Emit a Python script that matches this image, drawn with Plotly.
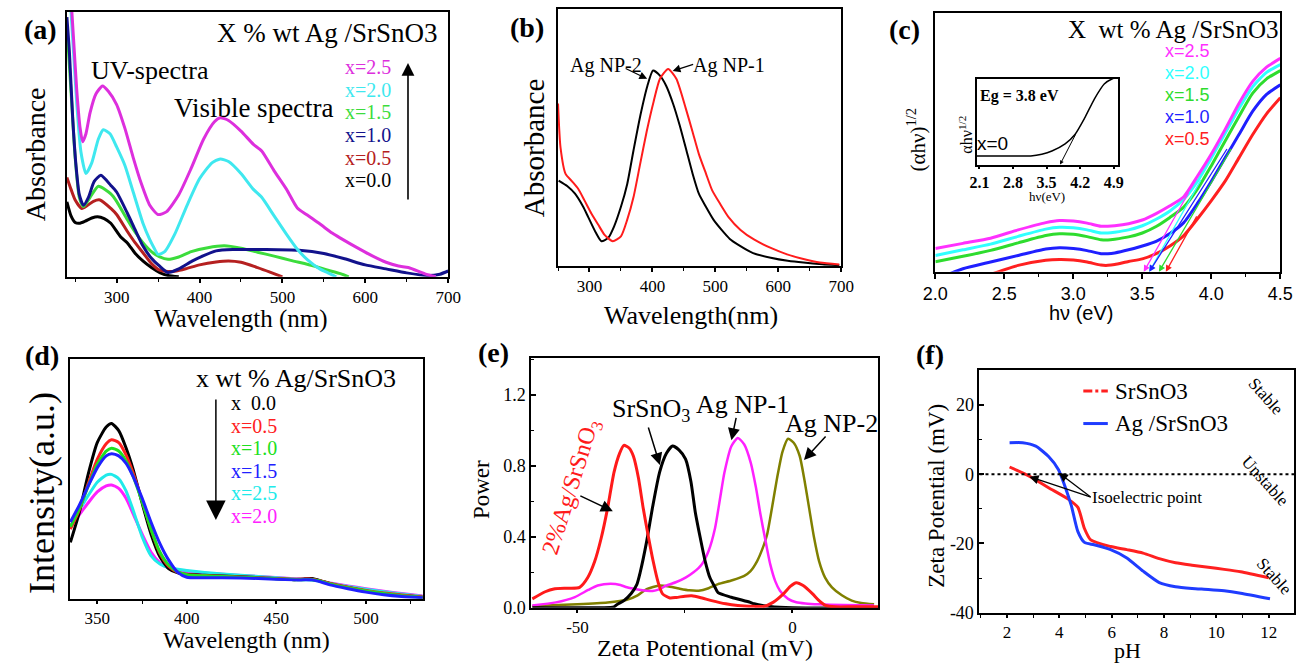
import plotly.graph_objects as go

SERIF = "Liberation Serif"
SANS = "Liberation Sans"
W, H = 1309, 666

# ---------------- (a) UV-vis absorbance, x wt% Ag/SrSnO3 ----------------
a_wl_25 = [244, 248, 252, 256, 259, 263, 268, 275, 283, 290, 300, 310, 320, 330, 340, 350, 360, 375, 390, 405,
           418, 425, 435, 450, 465, 475, 490, 505, 518, 530, 545, 560, 570, 590, 609, 625, 640, 652, 672, 685]
a_ab_25 = [1.10, 0.90, 0.70, 0.56, 0.51, 0.54, 0.62, 0.69, 0.72, 0.70, 0.65, 0.56, 0.45, 0.35, 0.27, 0.235, 0.245,
           0.31, 0.41, 0.52, 0.585, 0.60, 0.59, 0.55, 0.50, 0.475, 0.40, 0.33, 0.26, 0.233, 0.20, 0.165, 0.146,
           0.11, 0.078, 0.055, 0.041, 0.035, 0.011, 0.0]
a_wl_20 = [243, 248, 252, 257, 263, 270, 278, 284, 292, 300, 310, 320, 332, 340, 345, 350, 358, 370, 385, 400,
           415, 425, 435, 450, 465, 475, 490, 505, 518, 530, 545, 555, 565]
a_ab_20 = [1.10, 0.85, 0.65, 0.47, 0.39, 0.43, 0.52, 0.555, 0.54, 0.49, 0.42, 0.32, 0.20, 0.14, 0.11, 0.085,
           0.095, 0.16, 0.27, 0.37, 0.43, 0.445, 0.435, 0.39, 0.33, 0.30, 0.23, 0.16, 0.104, 0.065, 0.03, 0.015, 0.0]
a_wl_15 = [240, 245, 250, 255, 260, 268, 278, 293, 300, 313, 322, 332, 342, 352, 362, 375, 390, 410, 430, 450,
           470, 490, 510, 538, 555, 570, 580]
a_ab_15 = [0.95, 0.70, 0.45, 0.30, 0.265, 0.30, 0.342, 0.313, 0.285, 0.215, 0.17, 0.128, 0.095, 0.075, 0.066,
           0.075, 0.095, 0.11, 0.117, 0.108, 0.093, 0.078, 0.062, 0.041, 0.025, 0.012, 0.0]
a_wl_10 = [240, 243, 247, 251, 255, 260, 266, 273, 281, 293, 300, 313, 322, 332, 342, 352, 362, 375, 391, 405,
           420, 440, 480, 520, 550, 575, 600, 625, 650, 675, 690, 700]
a_ab_10 = [0.98, 0.85, 0.60, 0.42, 0.31, 0.27, 0.30, 0.36, 0.383, 0.345, 0.32, 0.24, 0.18, 0.115, 0.07, 0.04,
           0.016, 0.03, 0.059, 0.08, 0.098, 0.103, 0.103, 0.10, 0.088, 0.068, 0.045, 0.03, 0.015, 0.005, 0.01, 0.022]
a_wl_05 = [240, 245, 250, 258, 265, 272, 280, 293, 300, 313, 322, 332, 342, 352, 362, 372, 385, 400, 420, 435,
           450, 470, 485, 500]
a_ab_05 = [0.375, 0.33, 0.29, 0.258, 0.27, 0.285, 0.29, 0.258, 0.235, 0.171, 0.13, 0.09, 0.05, 0.025, 0.02,
           0.022, 0.032, 0.045, 0.056, 0.06, 0.055, 0.035, 0.018, 0.0]
a_wl_00 = [240, 245, 250, 255, 262, 270, 277, 285, 293, 305, 313, 322, 332, 342, 352, 362, 375]
a_ab_00 = [0.283, 0.23, 0.205, 0.202, 0.21, 0.222, 0.227, 0.22, 0.202, 0.15, 0.128, 0.09, 0.059, 0.035, 0.016,
           0.005, 0.0]

# ---------------- (b) Ag nanoparticles ----------------
b_wl_np2 = [251, 265, 277, 290, 298, 310, 319, 330, 339, 350, 360, 370, 381, 392, 401, 412, 422, 433, 443, 454,
            464, 474, 485, 497, 510, 523, 536, 560, 588, 615, 640, 670, 697]
b_ab_np2 = [0.332, 0.31, 0.281, 0.23, 0.19, 0.13, 0.096, 0.11, 0.153, 0.23, 0.319, 0.45, 0.587, 0.70, 0.76,
            0.74, 0.70, 0.63, 0.55, 0.45, 0.358, 0.28, 0.23, 0.18, 0.14, 0.105, 0.083, 0.05, 0.032, 0.02,
            0.013, 0.007, 0.003]
b_wl_np1 = [250, 254, 262, 272, 282, 292, 303, 314, 324, 337, 350, 360, 370, 380, 391, 402, 412, 425, 438, 453,
            464, 474, 485, 495, 508, 521, 540, 562, 590, 614, 640, 666, 697]
b_ab_np1 = [0.632, 0.46, 0.358, 0.33, 0.30, 0.255, 0.204, 0.16, 0.121, 0.096, 0.115, 0.18, 0.268, 0.39, 0.524,
            0.64, 0.728, 0.766, 0.728, 0.613, 0.52, 0.434, 0.36, 0.294, 0.24, 0.19, 0.14, 0.102, 0.068, 0.045,
            0.027, 0.013, 0.006]

# ---------------- (c) Tauc plots ----------------
c_ev = [2.0, 2.2, 2.4, 2.6, 2.8, 2.9, 3.0, 3.1, 3.2, 3.25, 3.3, 3.4, 3.5, 3.6, 3.7, 3.8, 3.9, 4.0, 4.1, 4.2,
        4.3, 4.4, 4.5]
c_25 = [0.09, 0.11, 0.13, 0.162, 0.19, 0.198, 0.196, 0.188, 0.176, 0.176, 0.178, 0.186, 0.20, 0.225, 0.255,
        0.29, 0.37, 0.455, 0.55, 0.65, 0.735, 0.79, 0.824]
c_20 = [0.063, 0.085, 0.107, 0.137, 0.165, 0.172, 0.17, 0.162, 0.15, 0.15, 0.153, 0.162, 0.178, 0.203, 0.235,
        0.28, 0.35, 0.44, 0.535, 0.63, 0.715, 0.77, 0.80]
c_15 = [0.039, 0.06, 0.083, 0.112, 0.14, 0.147, 0.145, 0.136, 0.124, 0.123, 0.126, 0.135, 0.15, 0.175, 0.21,
        0.25, 0.32, 0.41, 0.505, 0.60, 0.69, 0.745, 0.777]
c_10 = [-0.03, 0.012, 0.038, 0.063, 0.088, 0.093, 0.09, 0.082, 0.07, 0.07, 0.073, 0.085, 0.10, 0.118, 0.148,
        0.19, 0.265, 0.35, 0.44, 0.53, 0.62, 0.685, 0.722]
c_05 = [None, None, -0.01, 0.025, 0.045, 0.048, 0.046, 0.038, 0.026, 0.025, 0.028, 0.04, 0.05, 0.07, 0.10,
        0.14, 0.205, 0.275, 0.35, 0.44, 0.53, 0.61, 0.672]
# linear extrapolations: upper point and band-gap intercept for each loading
c_tan_top_ev = [3.84, 3.93, 4.15, 4.12, 3.90]
c_tan_top_val = [0.31, 0.36, 0.48, 0.48, 0.22]
c_gap_ev = [3.51, 3.55, 3.62, 3.55, 3.67]

# inset: x = 0
ci_ev = [2.04, 2.5, 3.0, 3.17, 3.4, 3.61, 3.885, 4.09, 4.29, 4.5, 4.70, 4.87, 4.98]
ci_val = [0.10, 0.10, 0.10, 0.10, 0.12, 0.157, 0.24, 0.35, 0.54, 0.77, 0.94, 1.0, 1.02]
ci_tan_ev = [3.78, 4.12]
ci_tan_val = [0.0, 0.37]
ci_ticks = [2.1, 2.8, 3.5, 4.2, 4.9]

# ---------------- (d) PL spectra ----------------
d_wl = [335, 340, 345, 350, 355, 358, 362, 366, 370, 375, 380, 385, 390, 395, 400, 410, 420, 440, 460, 465,
        470, 475, 480, 490, 500, 510, 520, 532]
d_00 = [0.235, 0.36, 0.52, 0.65, 0.715, 0.73, 0.70, 0.63, 0.54, 0.40, 0.27, 0.175, 0.125, 0.108, 0.102, 0.098,
        0.095, 0.088, 0.08, 0.083, 0.085, 0.075, 0.063, 0.047, 0.033, 0.022, 0.014, 0.007]
d_05 = [0.29, 0.37, 0.48, 0.58, 0.645, 0.662, 0.65, 0.60, 0.525, 0.41, 0.29, 0.19, 0.135, 0.11, 0.10, 0.097,
        0.094, 0.088, 0.082, 0.082, 0.082, 0.074, 0.064, 0.048, 0.035, 0.024, 0.016, 0.008]
d_10 = [0.30, 0.375, 0.47, 0.56, 0.615, 0.627, 0.615, 0.575, 0.51, 0.405, 0.29, 0.195, 0.14, 0.112, 0.10, 0.096,
        0.093, 0.087, 0.08, 0.08, 0.08, 0.073, 0.062, 0.046, 0.033, 0.022, 0.013, 0.006]
d_15 = [0.32, 0.39, 0.47, 0.545, 0.595, 0.604, 0.595, 0.565, 0.51, 0.42, 0.32, 0.23, 0.16, 0.11, 0.09, 0.088,
        0.088, 0.085, 0.079, 0.079, 0.079, 0.07, 0.058, 0.042, 0.028, 0.017, 0.01, 0.005]
d_25 = [0.32, 0.37, 0.43, 0.485, 0.515, 0.518, 0.50, 0.45, 0.37, 0.26, 0.18, 0.145, 0.13, 0.123, 0.118, 0.11,
        0.103, 0.093, 0.083, 0.08, 0.078, 0.072, 0.065, 0.052, 0.04, 0.03, 0.02, 0.01]
d_20 = [0.305, 0.35, 0.40, 0.445, 0.47, 0.474, 0.46, 0.42, 0.355, 0.27, 0.195, 0.15, 0.128, 0.12, 0.115, 0.108,
        0.102, 0.093, 0.084, 0.081, 0.079, 0.073, 0.066, 0.054, 0.042, 0.032, 0.022, 0.012]

# ---------------- (e) zeta potential distributions ----------------
e_zp_ag = [-60.5, -57.5, -55.5, -52, -49.5, -47.6, -46, -44.5, -43, -41.5, -40.2, -39.2, -38, -37, -35.8, -34.7,
           -33.5, -32.4, -31.2, -30.2, -28.5, -27, -25, -23.4, -21.5, -18.8, -15.5, -12.7, -9, -6.7, -4.5,
           -2.1, -0.5, 0.9, 2.5, 4.7, 6.2, 7.7, 10, 14, 20]
e_pw_ag = [0.05, 0.09, 0.106, 0.11, 0.115, 0.17, 0.26, 0.39, 0.56, 0.763, 0.87, 0.915, 0.90, 0.855, 0.73, 0.56,
           0.40, 0.263, 0.14, 0.078, 0.055, 0.058, 0.065, 0.067, 0.058, 0.04, 0.022, 0.013, 0.008, 0.007, 0.03,
           0.078, 0.12, 0.141, 0.125, 0.078, 0.04, 0.013, 0.005, 0.005, 0.005]
e_zp_sso = [-60.5, -50, -44, -41.5, -40.7, -39.2, -37.5, -36.2, -35.4, -33.9, -32.5, -30.9, -29.3, -27.9, -26.4,
            -24.85, -23.6, -22.6, -21.4, -20.3, -19.2, -18, -17.3, -14.2, -9.8, -8.9, -5.2, 0, 20]
e_pw_sso = [0.0, 0.0, 0.0, 0.005, 0.02, 0.04, 0.08, 0.13, 0.2, 0.374, 0.57, 0.763, 0.87, 0.911, 0.89, 0.837,
            0.71, 0.54, 0.39, 0.263, 0.17, 0.115, 0.085, 0.059, 0.03, 0.022, 0.007, 0.0, 0.0]
e_zp_np1 = [-60.5, -55, -50.6, -47.5, -45.3, -42.3, -40, -38.5, -36, -33.9, -32.5, -31, -29.4, -27, -24.85,
            -23, -21.1, -19.5, -18, -16.8, -15.8, -14.2, -12.7, -11.2, -9.7, -8.5, -7.4, -6.2, -5.15, -4, -2.9,
            -1, 0.9, 3, 6.2, 12, 19]
e_pw_np1 = [0.013, 0.03, 0.06, 0.10, 0.125, 0.135, 0.128, 0.115, 0.103, 0.096, 0.094, 0.103, 0.124, 0.145,
            0.17, 0.2, 0.244, 0.32, 0.448, 0.62, 0.763, 0.91, 0.957, 0.92, 0.818, 0.68, 0.522, 0.37, 0.244,
            0.15, 0.096, 0.05, 0.031, 0.024, 0.019, 0.015, 0.013]
e_zp_np2 = [-60.5, -50, -43, -38.5, -36, -33.9, -30.9, -28.5, -26.4, -24, -21.8, -19.5, -17.3, -14, -11.2, -9.8,
            -8.2, -7, -5.9, -4.7, -3.6, -2.3, -1, 0.3, 1.7, 2.8, 3.9, 5, 6.2, 7.6, 9.2, 11.5, 13.8, 16, 19]
e_pw_np2 = [0.01, 0.02, 0.03, 0.045, 0.07, 0.105, 0.125, 0.118, 0.108, 0.098, 0.096, 0.11, 0.133, 0.155, 0.18,
            0.205, 0.263, 0.33, 0.411, 0.57, 0.726, 0.88, 0.952, 0.93, 0.855, 0.72, 0.56, 0.40, 0.263, 0.17,
            0.115, 0.07, 0.04, 0.027, 0.019]
e_xticks = [-50, 0]
e_xtick_text = ["-50", "0"]

# ---------------- (f) zeta potential vs pH ----------------
f_ph_sso = [2.1, 2.85, 3.59, 4.34, 4.71, 4.96, 5.2, 5.96, 6.58, 7.2, 7.82, 8.44, 9.07, 9.69, 10.3, 10.93, 12.0]
f_zp_sso = [2.08, -0.57, -3.9, -7.2, -9.6, -15.7, -19.0, -20.9, -21.8, -22.8, -24.4, -25.6, -26.3, -26.9,
            -27.5, -28.2, -29.9]
f_ph_ag = [2.1, 2.6, 3.1, 3.59, 3.97, 4.21, 4.46, 4.71, 4.96, 5.33, 5.96, 6.58, 7.2, 7.82, 8.44, 9.07, 9.69,
           10.3, 10.93, 12.05]
f_zp_ag = [9.08, 9.08, 8.1, 5.1, 1.3, -3.4, -9.1, -16.6, -19.7, -20.4, -21.8, -24.2, -28.0, -31.3, -32.5,
           -33.0, -33.3, -33.7, -34.4, -36.0]
f_yticks = [-40, -20, 0, 20]
f_ytick_text = ["-40", "-20", "0", "20"]

fig = go.Figure()


def line(x, y, color, width, ax):
    fig.add_trace(go.Scatter(x=x, y=y, mode="lines", line=dict(color=color, width=width, shape="spline",
                                                                 smoothing=0.6),
                             xaxis="x" + ax, yaxis="y" + ax, showlegend=False, hoverinfo="skip"))


# (a)
A_COL = {"2.5": "#dd2fdd", "2.0": "#3fe8ef", "1.5": "#3cdc3c", "1.0": "#12128c", "0.5": "#b52020", "0.0": "#000000"}
line(a_wl_00, a_ab_00, A_COL["0.0"], 3, "")
line(a_wl_05, a_ab_05, A_COL["0.5"], 3, "")
line(a_wl_15, a_ab_15, A_COL["1.5"], 3, "")
line(a_wl_10, a_ab_10, A_COL["1.0"], 3, "")
line(a_wl_20, a_ab_20, A_COL["2.0"], 3, "")
line(a_wl_25, a_ab_25, A_COL["2.5"], 3, "")
# (b)
line(b_wl_np2, b_ab_np2, "#000000", 2, "2")
line(b_wl_np1, b_ab_np1, "#ff1c1c", 2, "2")
# (c)
C_COL = ["#ff30ff", "#30ffff", "#2edc2e", "#1f1fff", "#ff2020"]
for ys, col in zip([c_05, c_10, c_15, c_20, c_25], C_COL[::-1]):
    line(c_ev, ys, col, 3, "3")
line(ci_ev, ci_val, "#000000", 1.5, "7")
# (d)
D_COL = ["#000000", "#ff2020", "#20e020", "#2020ff", "#20eaea", "#ff20ff"]
for ys, col in zip([d_20, d_25, d_00, d_05, d_10, d_15], [D_COL[5], D_COL[4], D_COL[0], D_COL[1], D_COL[2], D_COL[3]]):
    line(d_wl, ys, col, 3, "4")
# (e)
line(e_zp_np2, e_pw_np2, "#808000", 2.5, "5")
line(e_zp_np1, e_pw_np1, "#ff20ff", 2.5, "5")
line(e_zp_sso, e_pw_sso, "#000000", 3, "5")
line(e_zp_ag, e_pw_ag, "#ff1a1a", 3, "5")
# (f)
line(f_ph_sso, f_zp_sso, "#ff2020", 3, "6")
line(f_ph_ag, f_zp_ag, "#1f3cff", 3, "6")


def px(x):
    return x / W


def py(y):
    return 1 - y / H


ann = []


def text(x, y, s, size, family=SERIF, color="#000", angle=0, xanchor="center", weight="normal"):
    ann.append(dict(x=px(x), y=py(y), xref="paper", yref="paper", text=s, showarrow=False,
                    font=dict(family=family, size=size, color=color, weight=weight),
                    textangle=angle, xanchor=xanchor, yanchor="middle"))


def arrow(tx, ty, hx, hy, head=2, size=1.2, width=1.5):
    ann.append(dict(x=px(hx), y=py(hy), xref="paper", yref="paper", ax=tx - hx, ay=ty - hy, text="",
                    showarrow=True, arrowhead=head, arrowsize=size, arrowwidth=width, arrowcolor="#000"))


# panel labels
for lab, (x, y) in zip("abcdef", [(28, 30), (524, 28), (910, 30), (30, 361), (490, 358), (936, 360)]):
    text(x, y, "(%s)" % lab, 28, weight="bold")

# (a) texts
text(321, 34, "X % wt Ag /SrSnO3", 27)
text(140, 72, "UV-spectra", 26)
text(246, 110, "Visible spectra", 27)
for i, k in enumerate(["2.5", "2.0", "1.5", "1.0", "0.5", "0.0"]):
    text(337, 68 + i * 23, "x=" + k, 20, color=A_COL[k], xanchor="left")
arrow(403, 202, 403, 64, head=2, size=1.6, width=1.6)
text(23, 157, "Absorbance", 28, angle=-90)
text(233, 324, "Wavelength (nm)", 25)

# (b) texts
text(605, 67, "Ag NP-2", 20)
text(730, 67, "Ag NP-1", 20)
arrow(624, 69, 647, 80, size=1.3, width=1.2)
arrow(695, 65, 673, 72, size=1.3, width=1.2)
text(531, 150, "Absorbance", 29, angle=-90)
text(692, 320, "Wavelength(nm)", 26)

# (c) texts
text(1183, 30, "X  wt % Ag /SrSnO3", 25)
for i, (k, col) in enumerate(zip(["2.5", "2.0", "1.5", "1.0", "0.5"], C_COL)):
    text(1173, 52 + i * 22.3, "x=" + k, 18, family=SANS, color=col, xanchor="left")
text(922, 142, "(αhν)<sup>1/2</sup>", 21, angle=-90)
text(1090, 318, "hν (eV)", 20, family=SANS)
for i, col in enumerate(C_COL):
    ann.append(dict(x=c_gap_ev[i], y=0, xref="x3", yref="y3", axref="x3", ayref="y3",
                    ax=c_tan_top_ev[i], ay=c_tan_top_val[i], text="", showarrow=True, arrowhead=2,
                    arrowsize=1, arrowwidth=1.3, arrowcolor=col))
ann.append(dict(x=ci_tan_ev[0], y=ci_tan_val[0], xref="x7", yref="y7", axref="x7", ayref="y7",
                ax=ci_tan_ev[1], ay=ci_tan_val[1], text="", showarrow=True, arrowhead=2,
                arrowsize=0.8, arrowwidth=1, arrowcolor="#000"))
text(1027, 97, "Eg = 3.8 eV", 16, weight="bold")
text(981, 146, "x=0", 19, family=SANS, xanchor="left")
text(972, 137, "αhν<sup>1/2</sup>", 16, angle=-90)
text(1055, 199, "hν(eV)", 13)

# (d) texts
text(289, 384, "x wt % Ag/SrSnO3", 26)
for i, (k, col) in enumerate(zip(["x  0.0", "x=0.5", "x=1.0", "x=1.5", "x=2.5", "x=2.0"], D_COL)):
    text(220, 409 + i * 23, k, 20, color=col, xanchor="left")
arrow(207, 406, 207, 528, head=2, size=2.6, width=1.5)
text(30, 500, "Intensity(a.u.)", 36, angle=-90)
text(238, 650, "Wavelength (nm)", 24)

# (e) texts
text(651, 416, "SrSnO<sub>3</sub>", 26)
text(744, 411, "Ag NP-1", 26)
text(835, 430, "Ag NP-2", 26)
text(570, 495, "2%Ag/SrSnO<sub>3</sub>", 24, color="#ff1a1a", angle=-72.5)
arrow(648, 433, 660, 472, size=1.6, width=1.5)
arrow(738, 423, 733, 447, size=1.6, width=1.5)
arrow(830, 442, 807, 467, size=1.6, width=1.5)
arrow(578, 503, 612, 519, size=1.6, width=1.5)
text(478, 497, "Power", 23, angle=-90)
text(706, 658, "Zeta Potentional (mV)", 24)

# (f) texts
text(1122, 397, "SrSnO3", 23, xanchor="left")
text(1122, 430, "Ag /SrSnO3", 23, xanchor="left")
text(1157, 505, "Isoelectric point", 17)
arrow(1100, 505, 1037, 484, size=1.4, width=1.3)
arrow(1100, 505, 1067, 480, size=1.4, width=1.3)
text(1278, 403, "Stable", 17, angle=48)
text(1277, 488, "Unstable", 17, angle=48)
text(1287, 585, "Stable", 17, angle=48)
text(942, 503, "Zeta Potential (mV)", 23, angle=-90)
text(1137, 660, "pH", 22)

shapes = [
    dict(type="line", xref="paper", yref="paper", x0=px(1092), x1=px(1117), y0=py(397), y1=py(397),
         line=dict(color="#ff2020", width=3, dash="dashdot")),
    dict(type="line", xref="paper", yref="paper", x0=px(1092), x1=px(1117), y0=py(430), y1=py(430),
         line=dict(color="#1f3cff", width=3)),
    dict(type="line", xref="x6 domain", yref="y6", x0=0, x1=1, y0=0, y1=0,
         line=dict(color="#000", width=2, dash="dot")),
]


def xax(domain, rng, dtick, minor, anchor, tick0=0, family=SERIF, size=17, fmt=None, ticklen=5):
    d = dict(domain=domain, range=rng, anchor=anchor, dtick=dtick, tick0=tick0, showgrid=False,
             zeroline=False, showline=True, linecolor="#000", linewidth=2, mirror=True,
             ticks="outside", ticklen=ticklen, tickwidth=1.5, tickcolor="#000",
             tickfont=dict(family=family, size=size, color="#000"))
    if fmt:
        d["tickformat"] = fmt
    if minor:
        d["minor"] = dict(ticks="outside", ticklen=3, dtick=minor, tickcolor="#000", tickwidth=1.2)
    return d


def yax(domain, rng, anchor, dtick=None, minor=None, show=False, size=17, fmt=None):
    d = dict(domain=domain, range=rng, anchor=anchor, showgrid=False, zeroline=False, showline=True,
             linecolor="#000", linewidth=2, mirror=True, showticklabels=show,
             ticks="inside" if show else "", ticklen=5, tickwidth=1.5, tickcolor="#000",
             tickfont=dict(family=SERIF, size=size, color="#000"))
    if dtick:
        d["dtick"] = dtick
    if fmt:
        d["tickformat"] = fmt
    if minor:
        d["minor"] = dict(ticks="inside", ticklen=3, dtick=minor, tickcolor="#000", tickwidth=1.2)
    return d


xe = xax([0.4041, 0.6745], [-60.7, 20], 50, None, "y5", size=17, ticklen=3)
xe.update(tickmode="array", tickvals=e_xticks, ticktext=e_xtick_text,
          minor=dict(ticks="outside", ticklen=3, tickvals=[-25], tickcolor="#000", tickwidth=1.2))
ye6 = yax([0.0661, 0.4354], [-40, 30], "x6", minor=10, show=True, size=18)
ye6.update(tickmode="array", tickvals=f_yticks, ticktext=f_ytick_text)
xi = xax([0.7510, 0.8610], [2.04, 4.98], 0.7, None, "y7", size=16, ticklen=3)
xi.update(tickmode="array", tickvals=ci_ticks, ticktext=["<b>%.1f</b>" % v for v in ci_ticks], linewidth=1.5)
yi = yax([0.7492, 0.8799], [0, 1.0], "x7")
yi.update(linewidth=1.5)

fig.update_layout(
    width=W, height=H, margin=dict(l=0, r=0, t=0, b=0), paper_bgcolor="white", plot_bgcolor="white",
    showlegend=False, annotations=ann, shapes=shapes,
    xaxis=xax([0.0420, 0.3392], [240, 700], 100, 50, "y", tick0=300, size=17, ticklen=4),
    yaxis=yax([0.578, 0.982], [0, 1.0], "x"),
    xaxis2=xax([0.4248, 0.6455], [250, 700], 100, 50, "y2", tick0=300, size=17, ticklen=4),
    yaxis2=yax([0.5946, 0.9865], [0, 1.0], "x2"),
    xaxis3=xax([0.7189, 0.9878], [2.0, 4.5], 0.5, 0.25, "y3", family=SANS, size=18, fmt=".1f"),
    yaxis3=yax([0.5856, 0.9805], [0, 1.0], "x3"),
    xaxis4=xax([0.0443, 0.3193], [334.7, 531.7], 50, 25, "y4", size=17, ticklen=3),
    yaxis4=yax([0.0871, 0.4535], [0, 1.0], "x4"),
    xaxis5=xe,
    yaxis5=yax([0.0736, 0.4550], [0, 1.41], "x5", dtick=0.4, minor=0.2, show=True, size=18, fmt=".1f"),
    xaxis6=xax([0.7533, 0.9985], [0.95, 12.97], 2, 1, "y6", size=17, ticklen=3),
    yaxis6=ye6,
    xaxis7=xi,
    yaxis7=yi,
)

fig.write_html("out.html")
